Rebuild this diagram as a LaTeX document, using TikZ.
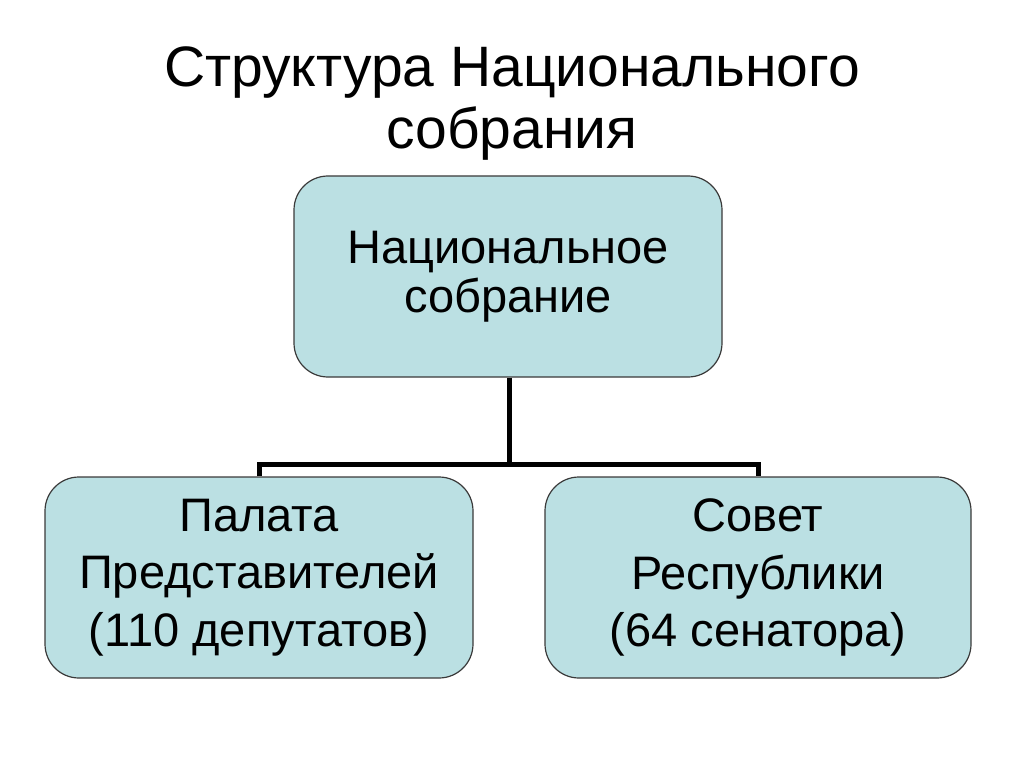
\documentclass[tikz,border=0pt]{standalone}
\usepackage{fontspec}
\setmainfont{Liberation Sans}
\definecolor{boxfill}{HTML}{BBE0E3}
\definecolor{boxline}{HTML}{3A3A3A}
\begin{document}
\begin{tikzpicture}[x=1pt,y=-1pt,
  orgbox/.style={draw=boxline, line width=1.2pt, fill=boxfill, rounded corners=34pt,
    minimum width=428pt, minimum height=201pt, align=center, inner sep=0pt},
  conn/.style={line width=5pt, black}]
\useasboundingbox (0,0) rectangle (1024,767);
\node[align=center, font=\fontsize{57}{62}\selectfont] (title) at (512,104) {Структура Национального\\собрания};
\node[orgbox, font=\fontsize{47}{49}\selectfont] (top) at (508,276.5) {Национальное\\собрание};
\node[orgbox, font=\fontsize{47}{57.5}\selectfont] (left) at (259,577.5) {Палата\\Представителей\\(110 депутатов)};
\node[orgbox, minimum width=426pt, font=\fontsize{47}{57.5}\selectfont] (right) at (758,577.5) {Совет\\Республики\\(64 сенатора)};
\coordinate (mid) at (509,464);
\draw[conn] (top.south -| mid) -- (mid);
\draw[conn] (left.north) -- (left.north |- mid) -- (right.north |- mid) -- (right.north);
\end{tikzpicture}
\end{document}
